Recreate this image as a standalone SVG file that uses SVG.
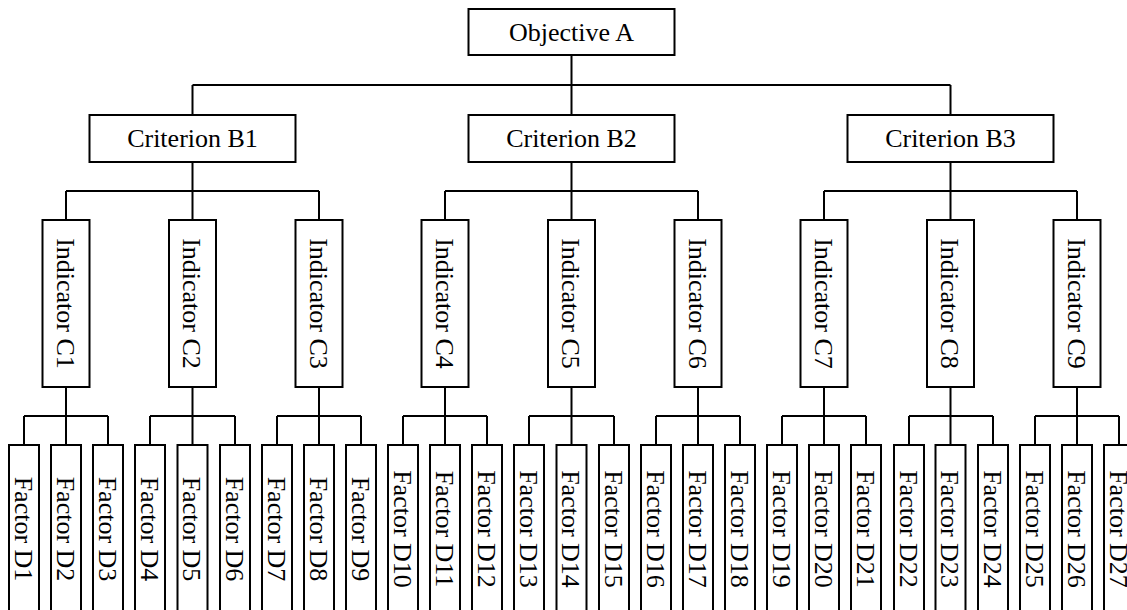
<svg xmlns="http://www.w3.org/2000/svg" width="1127" height="610" viewBox="0 0 1127 610">
<style>
rect{fill:#fff;stroke:#000;stroke-width:2}
.c path{fill:none;stroke:#000;stroke-width:2}
text{font-family:"Liberation Serif","Times New Roman",serif;font-size:26px;fill:#000;text-anchor:middle}
</style>
<rect x="0" y="0" width="1127" height="610" style="stroke:none"/>
<g class="c" id="connectors">
<path d="M571.5 55V85M192.5 85H950.5M192.5 85V115M571.5 85V115M950.5 85V115"/>
<path d="M192.5 162V191M66 191H319M66 191V220M192.5 191V220M319 191V220"/>
<path d="M571.5 162V191M445 191H698M445 191V220M571.5 191V220M698 191V220"/>
<path d="M950.5 162V191M824 191H1077M824 191V220M950.5 191V220M1077 191V220"/>
<path d="M66 387V416M24 416H108M24 416V445M66 416V445M108 416V445"/>
<path d="M192.5 387V416M150 416H235M150 416V445M192.5 416V445M235 416V445"/>
<path d="M319 387V416M277 416H361M277 416V445M319 416V445M361 416V445"/>
<path d="M445 387V416M403 416H487M403 416V445M445 416V445M487 416V445"/>
<path d="M571.5 387V416M529 416H614M529 416V445M571.5 416V445M614 416V445"/>
<path d="M698 387V416M656 416H740M656 416V445M698 416V445M740 416V445"/>
<path d="M824 387V416M782 416H866M782 416V445M824 416V445M866 416V445"/>
<path d="M950.5 387V416M909 416H993M909 416V445M950.5 416V445M993 416V445"/>
<path d="M1077 387V416M1035 416H1119M1035 416V445M1077 416V445M1119 416V445"/>
</g>
<g id="A"><rect x="468.5" y="9" width="206" height="46"/><text x="571.5" y="41">Objective A</text></g>
<g id="B1"><rect x="89.5" y="115" width="206" height="47"/><text x="192.5" y="147">Criterion B1</text></g>
<g id="B2"><rect x="468.5" y="115" width="206" height="47"/><text x="571.5" y="147">Criterion B2</text></g>
<g id="B3"><rect x="847.5" y="115" width="206" height="47"/><text x="950.5" y="147">Criterion B3</text></g>
<g id="C1"><rect x="42.5" y="220" width="47" height="167"/><text transform="translate(66 303.5) rotate(90)" y="9.5">Indicator C1</text></g>
<g id="C2"><rect x="169" y="220" width="47" height="167"/><text transform="translate(192.5 303.5) rotate(90)" y="9.5">Indicator C2</text></g>
<g id="C3"><rect x="295.5" y="220" width="47" height="167"/><text transform="translate(319 303.5) rotate(90)" y="9.5">Indicator C3</text></g>
<g id="C4"><rect x="421.5" y="220" width="47" height="167"/><text transform="translate(445 303.5) rotate(90)" y="9.5">Indicator C4</text></g>
<g id="C5"><rect x="548" y="220" width="47" height="167"/><text transform="translate(571.5 303.5) rotate(90)" y="9.5">Indicator C5</text></g>
<g id="C6"><rect x="674.5" y="220" width="47" height="167"/><text transform="translate(698 303.5) rotate(90)" y="9.5">Indicator C6</text></g>
<g id="C7"><rect x="800.5" y="220" width="47" height="167"/><text transform="translate(824 303.5) rotate(90)" y="9.5">Indicator C7</text></g>
<g id="C8"><rect x="927" y="220" width="47" height="167"/><text transform="translate(950.5 303.5) rotate(90)" y="9.5">Indicator C8</text></g>
<g id="C9"><rect x="1053.5" y="220" width="47" height="167"/><text transform="translate(1077 303.5) rotate(90)" y="9.5">Indicator C9</text></g>
<g id="D1"><rect x="9" y="445" width="30" height="170"/><text transform="translate(24 529) rotate(90)" y="9.5">Factor D1</text></g>
<g id="D2"><rect x="51" y="445" width="30" height="170"/><text transform="translate(66 529) rotate(90)" y="9.5">Factor D2</text></g>
<g id="D3"><rect x="93" y="445" width="30" height="170"/><text transform="translate(108 529) rotate(90)" y="9.5">Factor D3</text></g>
<g id="D4"><rect x="135" y="445" width="30" height="170"/><text transform="translate(150 529) rotate(90)" y="9.5">Factor D4</text></g>
<g id="D5"><rect x="177.5" y="445" width="30" height="170"/><text transform="translate(192.5 529) rotate(90)" y="9.5">Factor D5</text></g>
<g id="D6"><rect x="220" y="445" width="30" height="170"/><text transform="translate(235 529) rotate(90)" y="9.5">Factor D6</text></g>
<g id="D7"><rect x="262" y="445" width="30" height="170"/><text transform="translate(277 529) rotate(90)" y="9.5">Factor D7</text></g>
<g id="D8"><rect x="304" y="445" width="30" height="170"/><text transform="translate(319 529) rotate(90)" y="9.5">Factor D8</text></g>
<g id="D9"><rect x="346" y="445" width="30" height="170"/><text transform="translate(361 529) rotate(90)" y="9.5">Factor D9</text></g>
<g id="D10"><rect x="388" y="445" width="30" height="170"/><text transform="translate(403 529) rotate(90)" y="9.5">Factor D10</text></g>
<g id="D11"><rect x="430" y="445" width="30" height="170"/><text transform="translate(445 529) rotate(90)" y="9.5">Factor D11</text></g>
<g id="D12"><rect x="472" y="445" width="30" height="170"/><text transform="translate(487 529) rotate(90)" y="9.5">Factor D12</text></g>
<g id="D13"><rect x="514" y="445" width="30" height="170"/><text transform="translate(529 529) rotate(90)" y="9.5">Factor D13</text></g>
<g id="D14"><rect x="556.5" y="445" width="30" height="170"/><text transform="translate(571.5 529) rotate(90)" y="9.5">Factor D14</text></g>
<g id="D15"><rect x="599" y="445" width="30" height="170"/><text transform="translate(614 529) rotate(90)" y="9.5">Factor D15</text></g>
<g id="D16"><rect x="641" y="445" width="30" height="170"/><text transform="translate(656 529) rotate(90)" y="9.5">Factor D16</text></g>
<g id="D17"><rect x="683" y="445" width="30" height="170"/><text transform="translate(698 529) rotate(90)" y="9.5">Factor D17</text></g>
<g id="D18"><rect x="725" y="445" width="30" height="170"/><text transform="translate(740 529) rotate(90)" y="9.5">Factor D18</text></g>
<g id="D19"><rect x="767" y="445" width="30" height="170"/><text transform="translate(782 529) rotate(90)" y="9.5">Factor D19</text></g>
<g id="D20"><rect x="809" y="445" width="30" height="170"/><text transform="translate(824 529) rotate(90)" y="9.5">Factor D20</text></g>
<g id="D21"><rect x="851" y="445" width="30" height="170"/><text transform="translate(866 529) rotate(90)" y="9.5">Factor D21</text></g>
<g id="D22"><rect x="894" y="445" width="30" height="170"/><text transform="translate(909 529) rotate(90)" y="9.5">Factor D22</text></g>
<g id="D23"><rect x="935.5" y="445" width="30" height="170"/><text transform="translate(950.5 529) rotate(90)" y="9.5">Factor D23</text></g>
<g id="D24"><rect x="978" y="445" width="30" height="170"/><text transform="translate(993 529) rotate(90)" y="9.5">Factor D24</text></g>
<g id="D25"><rect x="1020" y="445" width="30" height="170"/><text transform="translate(1035 529) rotate(90)" y="9.5">Factor D25</text></g>
<g id="D26"><rect x="1062" y="445" width="30" height="170"/><text transform="translate(1077 529) rotate(90)" y="9.5">Factor D26</text></g>
<g id="D27"><rect x="1104" y="445" width="30" height="170"/><text transform="translate(1119 529) rotate(90)" y="9.5">Factor D27</text></g>
</svg>
